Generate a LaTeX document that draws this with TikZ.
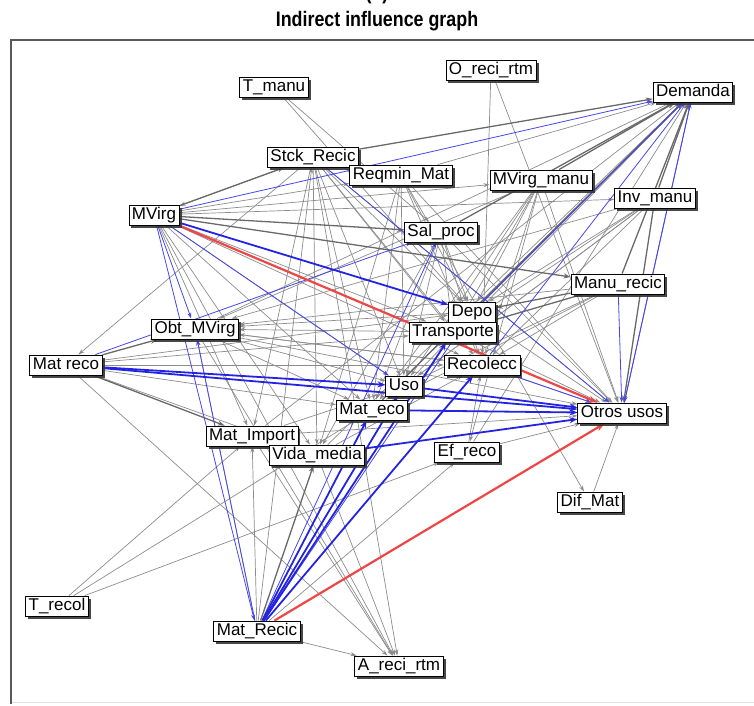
\documentclass[tikz,border=0pt]{standalone}
\usepackage{fontspec}
\setmainfont{Liberation Sans}
\usetikzlibrary{arrows.meta,shadows,backgrounds}

\definecolor{edgegray}{RGB}{140,140,140}
\definecolor{edgedark}{RGB}{105,105,105}
\definecolor{edgeblue}{RGB}{70,70,235}
\definecolor{edgeblueD}{RGB}{35,35,225}
\definecolor{edgered}{RGB}{238,70,70}

\begin{document}
\begin{tikzpicture}[x=1pt,y=-1pt,
  var/.style={draw=black, line width=0.9pt, fill=white,
    font=\fontsize{17}{18}\selectfont, inner xsep=3pt, inner ysep=2pt,
    text height=12.5pt, text depth=3.5pt,
    drop shadow={shadow xshift=2.5pt, shadow yshift=-2.5pt, fill=black!80, opacity=0.9}},
  g/.style={draw=edgegray, line width=0.7pt, -{Stealth[length=6pt,width=4pt]}},
  gd/.style={draw=edgedark, line width=1.3pt, -{Stealth[length=7pt,width=5pt]}},
  b/.style={draw=edgeblue, line width=0.8pt, -{Stealth[length=6pt,width=4pt]}},
  bb/.style={draw=edgeblueD, line width=1.8pt, -{Stealth[length=8pt,width=6pt]}},
  rr/.style={draw=edgered, line width=2.2pt, -{Stealth[length=9pt,width=7pt]}},
  frameline/.style={draw=black!65, line width=1.6pt}]

\useasboundingbox (0,0) rectangle (754,705);

% heading
\node[anchor=base, font=\bfseries\fontsize{21}{22}\selectfont] (sub) at (377,-0.5) {\scalebox{0.85}[1]{(b)}};
\node[font=\bfseries\fontsize{21}{22}\selectfont] (title) at (377,21) {\scalebox{0.85}[1]{Indirect influence graph}};

% frame
\draw[draw=black!12, line width=1pt] (11,702) -- (760,702);
\draw[frameline] (11,704) -- (11,40) -- (760,40);

% variables
\node[var] (tm)    at (274,87)  {T\_manu};
\node[var] (ort)   at (491,70)  {O\_reci\_rtm};
\node[var] (dem)   at (693,92)  {Demanda};
\node[var] (stck)  at (313,157) {Stck\_Recic};
\node[var] (req)   at (401,175) {Reqmin\_Mat};
\node[var] (mvm)   at (541,180) {MVirg\_manu};
\node[var] (inv)   at (655,198) {Inv\_manu};
\node[var] (mv)    at (154,215) {MVirg};
\node[var] (sal)   at (441,232) {Sal\_proc};
\node[var] (mr)    at (618,284) {Manu\_recic};
\node[var] (dep)   at (472,312) {Depo};
\node[var] (tra)   at (453,332) {Transporte};
\node[var] (obt)   at (195,329) {Obt\_MVirg};
\node[var] (mreco) at (66,365)  {Mat reco};
\node[var] (rec)   at (482,365) {Recolecc};
\node[var] (uso)   at (404,386) {Uso};
\node[var] (meco)  at (372,410) {Mat\_eco};
\node[var] (ou)    at (622,413) {Otros usos};
\node[var] (mimp)  at (252,436) {Mat\_Import};
\node[var] (vm)    at (317,455) {Vida\_media};
\node[var] (ef)    at (467,452) {Ef\_reco};
\node[var] (dif)   at (590,502) {Dif\_Mat};
\node[var] (trc)   at (57,606)  {T\_recol};
\node[var] (mrc)   at (257,631) {Mat\_Recic};
\node[var] (art)   at (399,666) {A\_reci\_rtm};

\begin{scope}[on background layer]
  % weak indirect influences
  \foreach \s/\t in {tm/sal, tm/dep, ort/rec, ort/ou,
      stck/mv, stck/mreco, stck/vm, stck/mimp, stck/uso, stck/rec, stck/art,
      stck/tra, stck/meco, stck/dep, stck/ou,
      req/dep, req/rec, req/ou, req/uso, req/meco, req/dif, req/vm,
      mv/mvm, mv/inv, mv/tra, mv/rec, mv/mimp, mv/meco, mv/vm, mv/art, mv/uso, mv/req,
      mvm/dep, mvm/tra, mvm/rec, mvm/uso, mvm/ou, mvm/meco, mvm/obt, mvm/ef,
      inv/dep, inv/tra, inv/rec, inv/obt, inv/uso, inv/meco,
      sal/dep, sal/tra, sal/rec, sal/ou, sal/uso, sal/meco, sal/vm,
      mr/obt, mr/uso, mr/meco, mr/rec,
      uso/dem, meco/dem, obt/dem, vm/dem, mimp/dem, req/dem, ef/dem,
      dep/obt, tra/obt, rec/obt, dep/ou, tra/ou, rec/ou,
      mreco/dep, mreco/tra, mreco/vm, mreco/art, mreco/rec, mreco/meco,
      obt/ou, obt/uso, obt/rec, obt/art, obt/meco,
      mimp/ou, mimp/uso, mimp/art, vm/art, vm/rec,
      ef/ou, ef/rec, dif/ou,
      trc/mimp, trc/meco, trc/ef,
      mrc/mimp, mrc/art, mrc/stck, mrc/ef, mrc/obt, meco/ou}
    \draw[g] (\s) -- (\t);
  % strong indirect influences
  \foreach \s/\t in {stck/dem, mvm/dem, inv/dem, mr/dem, sal/dem, dep/dem,
      mv/sal, mv/mr, mv/stck, inv/ou, mr/dep, mr/tra, meco/dem,
      mreco/obt, mreco/mimp, mrc/vm}
    \draw[gd] (\s) -- (\t);
  % blue influences
  \foreach \s/\t in {mv/dem, ou/dem, dem/ou, mr/ou, stck/ou, mv/mrc, mrc/obt,
      mv/obt, mv/uso, mreco/sal, tra/dem, rec/dem, mrc/sal, mrc/dep, rec/ou}
    \draw[b] (\s) -- (\t);
  \foreach \s/\t in {mv/dep, mreco/uso, mreco/ou, mrc/rec, mrc/uso, vm/ou,
      meco/ou, uso/ou, mrc/tra, mrc/meco}
    \draw[bb] (\s) -- (\t);
  % strongest influences
  \draw[rr] (mv) -- (ou);
  \draw[rr] (mrc) -- (ou);
\end{scope}
\end{tikzpicture}
\end{document}
